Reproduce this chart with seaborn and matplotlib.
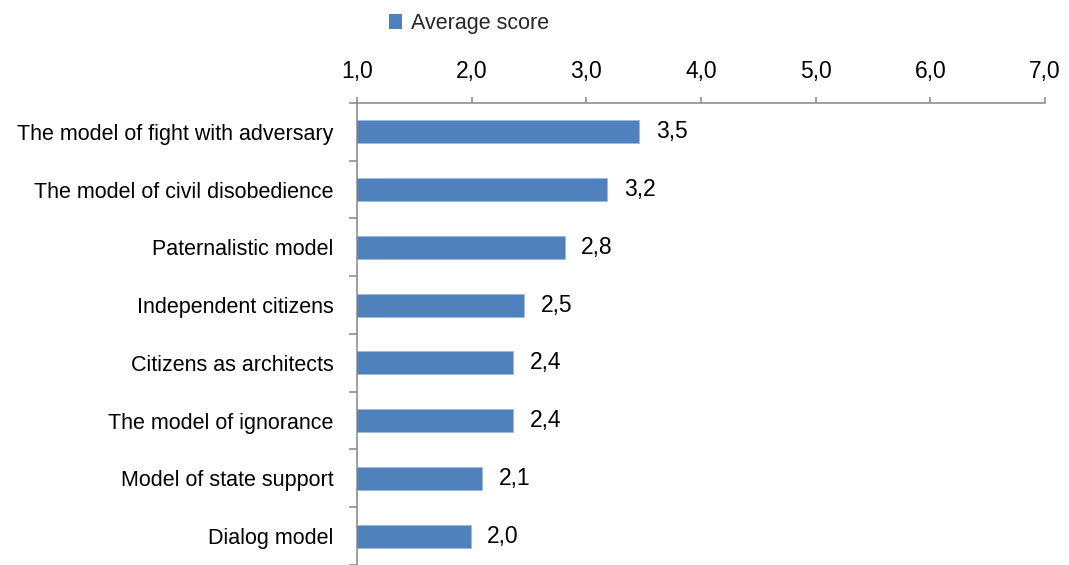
import matplotlib
matplotlib.use("Agg")
import matplotlib.pyplot as plt
import seaborn as sns
import numpy as np
from matplotlib.ticker import FixedLocator, FuncFormatter
from matplotlib.patches import Patch

categories = [
    "The model of fight with adversary",
    "The model of civil disobedience",
    "Paternalistic model",
    "Independent citizens",
    "Citizens as architects",
    "The model of ignorance",
    "Model of state support",
    "Dialog model",
]
scores = [3.46, 3.18, 2.81, 2.46, 2.36, 2.36, 2.09, 1.99]
x_ticks = [1.0, 2.0, 3.0, 4.0, 5.0, 6.0, 7.0]
series_name = "Average score"

sns.set_theme(style="white")
plt.rcParams["font.family"] = ["Liberation Sans Narrow", "Liberation Sans", "DejaVu Sans"]

bar_color = "#4F81BD"
axis_color = "#868686"
fs = 15.5

fig = plt.figure(figsize=(10.69, 5.65), dpi=100)
ax = fig.add_axes([0.334, 0.0, 0.6436, 0.8177])

sns.barplot(x=scores, y=categories, orient="h", color=bar_color, width=0.4,
            saturation=1, edgecolor="#9DB9DC", linewidth=0.6, ax=ax)

ax.set_xlim(1.0, 7.0)
ax.set_ylim(len(categories) - 0.5, -0.5)

# value axis on top
ax.xaxis.tick_top()
ax.set_xticks(x_ticks)
ax.xaxis.set_major_formatter(FuncFormatter(lambda v, p: f"{v:.1f}".replace(".", ",")))
ax.tick_params(axis="x", which="major", direction="out", length=4.3, width=1.1,
               color=axis_color, labelsize=fs + 1, pad=10, labelcolor="black",
               top=True, bottom=False)

# category axis: labels at centers, tick marks at boundaries
ax.tick_params(axis="y", which="major", length=0, pad=17, labelsize=fs, labelcolor="black")
ax.yaxis.set_minor_locator(FixedLocator(np.arange(-0.5, len(categories), 1.0)))
ax.tick_params(axis="y", which="minor", direction="out", length=5.8, width=1.1,
               color=axis_color, left=True)

for side in ["right", "bottom"]:
    ax.spines[side].set_visible(False)
for side in ["left", "top"]:
    ax.spines[side].set_color(axis_color)
    ax.spines[side].set_linewidth(1.1)

ax.set_xlabel("")
ax.set_ylabel("")

ax.bar_label(ax.containers[0], fmt=lambda v: f"{v:.1f}".replace(".", ","),
             padding=12, fontsize=fs + 1, color="black")

fig.legend(handles=[Patch(facecolor=bar_color, edgecolor="none", label=series_name)],
           loc="center", bbox_to_anchor=(0.439, 0.958), frameon=False, fontsize=fs,
           handlelength=0.6, handleheight=0.7, handletextpad=0.4, borderpad=0)

fig.savefig("out.png", dpi=100)
